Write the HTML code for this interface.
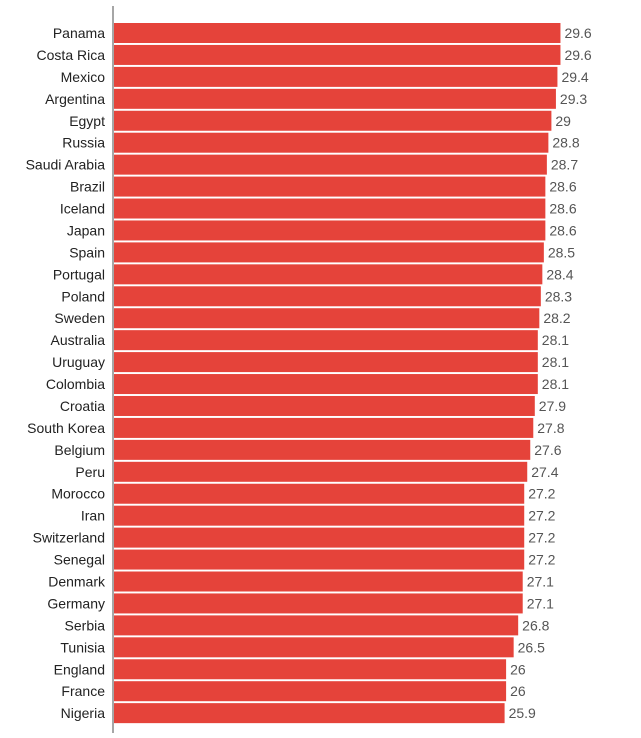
<!DOCTYPE html>
<html><head><style>
body{margin:0;background:#fff;width:641px;height:733px;overflow:hidden;font-family:"Liberation Sans Narrow","Liberation Sans",sans-serif;}
</style></head><body>
<svg width="641" height="733" xmlns="http://www.w3.org/2000/svg">
<line x1="113" y1="6" x2="113" y2="733" stroke="#888" stroke-width="1.5"/>
<g id="g"></g>
</svg>
<script>
const d=[["Panama",29.6],["Costa Rica",29.6],["Mexico",29.4],["Argentina",29.3],["Egypt",29],["Russia",28.8],["Saudi Arabia",28.7],["Brazil",28.6],["Iceland",28.6],["Japan",28.6],["Spain",28.5],["Portugal",28.4],["Poland",28.3],["Sweden",28.2],["Australia",28.1],["Uruguay",28.1],["Colombia",28.1],["Croatia",27.9],["South Korea",27.8],["Belgium",27.6],["Peru",27.4],["Morocco",27.2],["Iran",27.2],["Switzerland",27.2],["Senegal",27.2],["Denmark",27.1],["Germany",27.1],["Serbia",26.8],["Tunisia",26.5],["England",26],["France",26],["Nigeria",25.9]];
let s="";
d.forEach((r,i)=>{const y=23+i*21.94;const w=r[1]*15.1-0.5;
s+=`<rect x="114" y="${y}" width="${w}" height="20" fill="#e5433a"/>`;
s+=`<text x="105" y="${y+15}" text-anchor="end" font-size="14" fill="#222">${r[0]}</text>`;
s+=`<text x="${114+w+4}" y="${y+15}" font-size="14" fill="#555">${r[1]}</text>`;});
document.getElementById("g").innerHTML=s;
</script>
</body></html>
